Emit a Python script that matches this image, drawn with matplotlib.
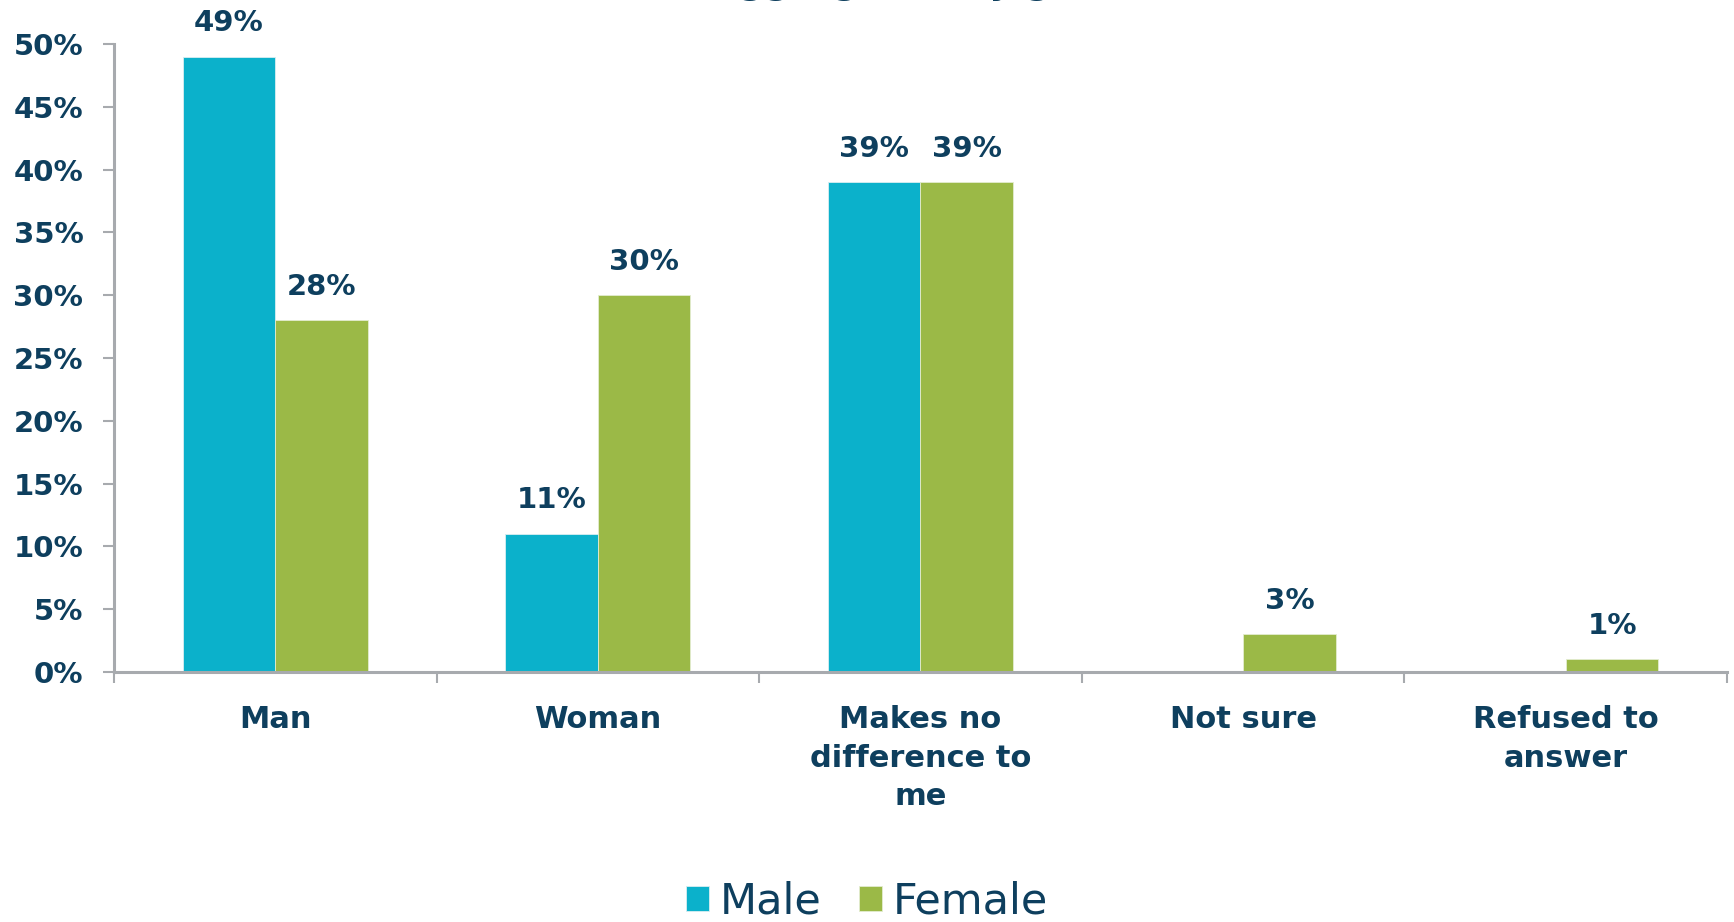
import numpy as np
import matplotlib
matplotlib.use("Agg")
import matplotlib.pyplot as plt

# data
categories = ["Man", "Woman", "Makes no\ndifference to\nme", "Not sure", "Refused to\nanswer"]
male = [49, 11, 39, 0, 0]
female = [28, 30, 39, 3, 1]
series_names = ["Male", "Female"]
yticks = [0, 5, 10, 15, 20, 25, 30, 35, 40, 45, 50]

MALE_C = "#0bb1cb"
FEMALE_C = "#9bb947"
TEXT_C = "#0e3f5e"
AXIS_C = "#a7aaae"

plt.rcParams['font.family'] = ['DejaVu Sans']

fig = plt.figure(figsize=(17.34, 9.22), dpi=100)
ax = fig.add_axes([0.0657, 0.2711, 0.9303, 0.6812])

x = np.arange(len(categories))
w = 0.287
b1 = ax.bar(x - w / 2, male, w, color=MALE_C, edgecolor="#d9eef2", linewidth=0.6, label=series_names[0])
b2 = ax.bar(x + w / 2, female, w, color=FEMALE_C, edgecolor="#e3ecd0", linewidth=0.6, label=series_names[1])

for bars, vals in ((b1, male), (b2, female)):
    for r, v in zip(bars, vals):
        if v == 0:
            continue
        ax.annotate(f"{v}%", (r.get_x() + r.get_width() / 2, v), xytext=(0, 14),
                    textcoords="offset points", ha="center", va="bottom",
                    fontsize=21, fontweight="bold", color=TEXT_C)

ax.set_xlim(-0.5, len(categories) - 0.5)
ax.set_ylim(0, 50)
ax.set_yticks(yticks)
ax.set_yticklabels([f"{t}%" for t in yticks], fontsize=21, fontweight="bold", color=TEXT_C)

ax.set_xticks(x)
ax.set_xticklabels(categories, fontsize=22, fontweight="bold", color=TEXT_C, linespacing=1.4)
ax.set_xticks(np.arange(len(categories) + 1) - 0.5, minor=True)
ax.tick_params(axis="x", which="major", length=0, pad=24)
ax.tick_params(axis="x", which="minor", length=8, width=1.5, color=AXIS_C)
ax.tick_params(axis="y", length=8, width=1.5, color=AXIS_C, pad=14)

for s in ("top", "right"):
    ax.spines[s].set_visible(False)
for s in ("left", "bottom"):
    ax.spines[s].set_color(AXIS_C)
    ax.spines[s].set_linewidth(2.2)

leg = fig.legend(loc="center", bbox_to_anchor=(0.5, 0.022), ncol=2, frameon=False,
                 fontsize=31, handlelength=0.55, handleheight=0.55, handletextpad=0.25,
                 columnspacing=0.85)
for t in leg.get_texts():
    t.set_color(TEXT_C)

# last line of the title, clipped at the top edge as in the reference
fig.text(0.525, 1.007, "(Disaggregated by gender)", ha="center", va="baseline",
         fontsize=26, fontweight="bold", color=TEXT_C)

fig.savefig("out.png", dpi=100)
